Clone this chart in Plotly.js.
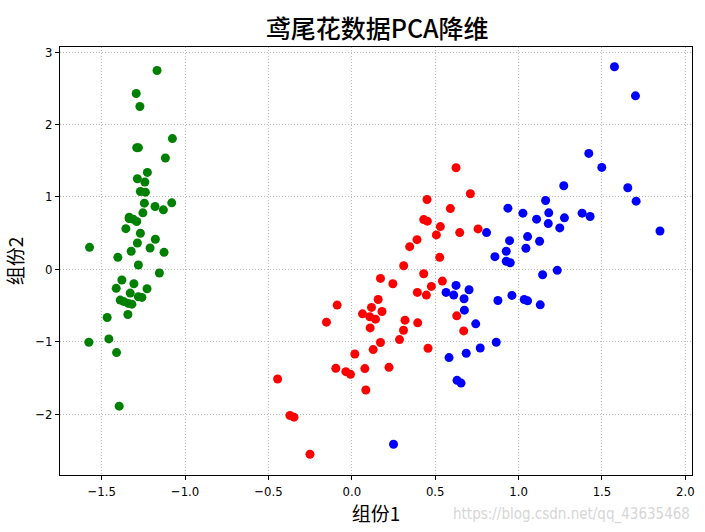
<!DOCTYPE html>
<html>
<head>
<meta charset="utf-8">
<script src="https://cdn.plot.ly/plotly-3.0.1.min.js"></script>
<style>html,body{margin:0;padding:0;background:#fff;}#chart{width:705px;height:532px;}</style>
</head>
<body>
<div id="chart"></div>
<script>
// Setosa (green)
const setosaX = [-1.168,-1.293,-1.271,-1.076,-1.29,-1.28,-1.118,-1.226,-1.286,-1.241,-1.268,-1.238,-1.244,-1.180,-1.130,-1.080,-1.253,-1.335,
  -1.335,-1.31,-1.29,-1.355,-1.268,-1.178,-1.286,-1.573,-1.21,-1.323,-1.126,-1.403,-1.280,-1.154,-1.379,-1.307,-1.413,-1.228,-1.329,
  -1.280,-1.259,-1.389,-1.369,-1.34,-1.319,-1.343,-1.467,-1.457,-1.577,-1.411,-1.395];
const setosaY = [2.746,2.428,2.248,1.805,1.68,1.68,1.537,1.338,1.251,1.205,1.075,1.066,0.914,0.867,0.821,0.918,0.780,0.720,
  0.70,0.69,0.66,0.562,0.498,0.415,0.364,0.304,0.295,0.249,0.235,0.166,0.060,-0.051,-0.148,-0.199,-0.263,-0.268,-0.328,
  -0.379,-0.388,-0.425,-0.443,-0.471,-0.481,-0.623,-0.665,-0.961,-1.007,-1.150,-1.889];
// Versicolor (red)
const versiX = [0.625,0.711,0.451,0.591,0.431,0.453,0.531,0.647,0.757,0.507,0.391,0.347,0.527,0.311,0.431,0.172,0.543,0.246,0.477,0.393,0.447,0.158,-0.088,0.118,0.181,0.629,0.064,
  0.108,0.142,-0.152,0.319,0.395,0.110,0.310,0.671,0.172,0.286,0.128,0.457,0.018,-0.096,-0.036,-0.008,0.078,0.223,-0.445,0.084,-0.371,-0.347,-0.251];
const versiY = [1.403,1.043,0.964,0.839,0.687,0.665,0.590,0.507,0.558,0.475,0.410,0.313,0.166,0.050,-0.061,-0.125,-0.162,-0.199,-0.236,-0.319,-0.356,-0.416,-0.494,-0.526,-0.582,-0.642,-0.615,
  -0.656,-0.688,-0.730,-0.702,-0.739,-0.809,-0.841,-0.850,-1.011,-0.970,-1.108,-1.090,-1.169,-1.367,-1.413,-1.450,-1.371,-1.353,-1.515,-1.667,-2.018,-2.041,-2.554];
// Virginica (blue)
const virgX = [1.575,1.701,1.421,1.499,1.271,1.655,1.705,1.162,0.936,1.026,1.181,1.381,1.429,1.108,1.275,1.178,1.247,1.848,0.808,1.054,1.126,0.946,
  0.926,1.044,0.858,0.926,0.950,1.144,1.232,0.625,0.703,0.565,0.611,0.673,0.876,0.960,1.034,1.054,1.130,0.675,0.743,0.866,0.770,0.686,0.583,0.631,0.655,0.250];
const virgY = [2.798,2.396,1.601,1.407,1.154,1.126,0.941,0.950,0.845,0.776,0.780,0.776,0.729,0.693,0.711,0.632,0.572,0.530,0.507,0.452,0.388,0.396,
  0.249,0.291,0.175,0.111,0.091,-0.075,-0.014,-0.222,-0.282,-0.319,-0.356,-0.407,-0.430,-0.360,-0.416,-0.435,-0.490,-0.564,-0.753,-1.007,-1.086,-1.159,-1.219,-1.533,-1.571,-2.415];

const xTicks = [-1.5,-1.0,-0.5,0.0,0.5,1.0,1.5,2.0];
const yTicks = [-2,-1,0,1,2,3];

const tickFont = {family:'"Liberation Sans Narrow","DejaVu Sans Condensed","Noto Sans CJK SC",sans-serif', size:13, color:'#000'};
const cjk = '"Noto Sans CJK SC","Noto Sans CJK JP",sans-serif';

function tr(x,y,c){return {x:x,y:y,type:'scatter',mode:'markers',marker:{color:c,size:9,line:{width:0}},showlegend:false,hoverinfo:'skip'};}

const data = [tr(setosaX,setosaY,'#008000'), tr(versiX,versiY,'#ff0000'), tr(virgX,virgY,'#0000ff')];

const axisCommon = {showline:true, mirror:true, linecolor:'#000', linewidth:1, ticks:'outside', ticklen:4, tickcolor:'#000',
  showgrid:true, gridcolor:'#b8b8b8', griddash:'1px,2px', gridwidth:1, zeroline:false, tickfont:tickFont};

const layout = {
  width:705, height:532,
  margin:{l:60, r:13, t:47, b:57},
  paper_bgcolor:'#fff', plot_bgcolor:'#fff',
  title:{text:'鸢尾花数据PCA降维', font:{family:cjk, size:25, color:'#000', weight:500}, x:0.535, xanchor:'center', y:0.945, yanchor:'middle'},
  xaxis:Object.assign({}, axisCommon, {range:[-1.75,2.04], tickvals:xTicks, tickformat:'.1f',
    title:{text:'组份1', font:{family:cjk, size:19, color:'#000'}, standoff:4}}),
  yaxis:Object.assign({}, axisCommon, {range:[-2.84,3.07], tickvals:yTicks, tickformat:'d',
    title:{text:'组份2', font:{family:cjk, size:19, color:'#000'}, standoff:6}}),
  annotations:[{text:'https://blog.csdn.net/qq_43635468', xref:'paper', yref:'paper', x:1.0, y:-0.093, xanchor:'right', yanchor:'middle',
    showarrow:false, font:{family:'"Liberation Sans Narrow","DejaVu Sans Condensed",sans-serif', size:15, color:'#d6d6d6'}}]
};

Plotly.newPlot('chart', data, layout, {displayModeBar:false, staticPlot:true});
</script>
</body>
</html>
